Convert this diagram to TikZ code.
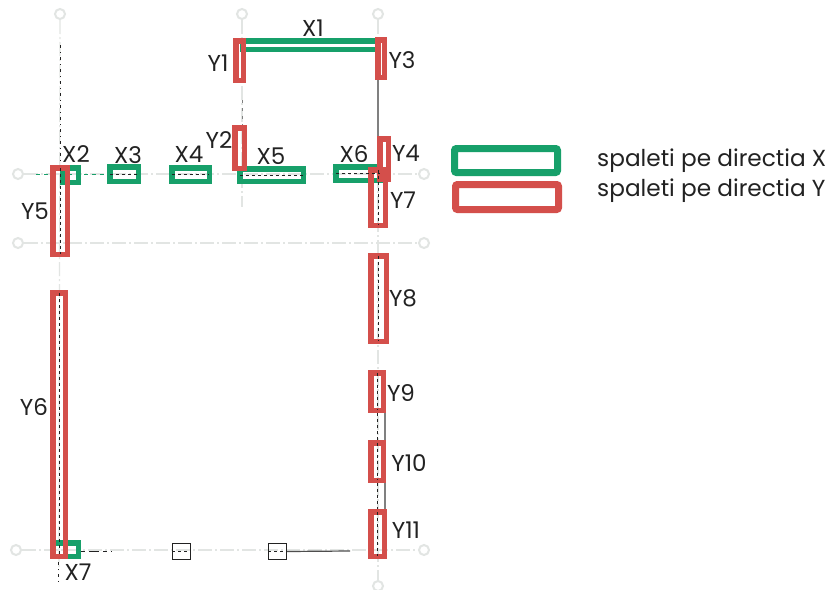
\documentclass[tikz,border=0pt]{standalone}
\usepackage{fontspec}
\setmainfont{Poppins}
\definecolor{wallg}{HTML}{17A06A}
\definecolor{wallr}{HTML}{D44F4B}
\definecolor{axisc}{HTML}{E2E5E3}
\definecolor{inkc}{HTML}{222222}
\tikzset{
  wall/.style={draw, rectangle, inner sep=0pt, outer sep=0pt, anchor=north west},
  wallx/.style={wall, draw=wallg, line width=\sw pt},
  wally/.style={wall, draw=wallr, line width=\sw pt},
  lab/.style={font=\fontsize{23}{23}\selectfont, text=inkc, inner sep=0pt},
  legtxt/.style={font=\fontsize{23.2}{24}\selectfont, text=inkc, inner sep=0pt, anchor=west},
  bubble/.style={circle, draw=axisc, line width=2pt, minimum size=10pt, inner sep=0pt},
  axisline/.style={draw=axisc, line width=1.2pt, dash pattern=on 14pt off 3pt on 2pt off 3pt},
  darkaxis/.style={draw=inkc, line width=1pt, dash pattern=on 3pt off 4pt on 1pt off 4pt},
  centerdash/.style={draw=inkc, line width=1pt, dash pattern=on 3pt off 3pt},
  solidgrey/.style={draw=gray, line width=1.3pt},
  column/.style={rectangle, draw=inkc, line width=1pt, inner sep=0pt, anchor=north west},
}
\def\sw{5.5}
\newcommand{\wallbox}[6]{\node[#1, minimum width=#4pt-#2pt-\sw pt, minimum height=#5pt-#3pt-\sw pt] (#6) at (#2+\sw/2,#3+\sw/2) {};}
\begin{document}
\begin{tikzpicture}[x=1pt,y=-1pt]
\useasboundingbox[fill=white] (0,0) rectangle (829,589);
% axis bubbles
\node[bubble] (t1) at (60,14) {};
\node[bubble] (t2) at (242,14) {};
\node[bubble] (t3) at (378,14) {};
\node[bubble] (l1) at (18,174) {};
\node[bubble] (l2) at (18,243) {};
\node[bubble] (l3) at (16,550) {};
\node[bubble] (r1) at (424,174) {};
\node[bubble] (r2) at (424,243) {};
\node[bubble] (r3) at (424,550) {};
\node[bubble] (b3) at (378,586) {};
\coordinate (b1) at (59,570);
\coordinate (b2) at (242,207);
% axes
\draw[axisline] (t1) -- (b1);
\draw[axisline] (t2) -- (b2);
\draw[axisline] (t3) -- (b3);
\draw[axisline] (l1) -- (r1);
\draw[axisline] (l2) -- (r2);
\draw[axisline] (l3) -- (r3);
% dark lines
\coordinate (d1) at (60,45);
\coordinate (d2) at (60,165);
\draw[darkaxis] (d1) -- (d2);
\coordinate (d3) at (36,174);
\coordinate (d4) at (107,174);
\draw[draw=wallg, line width=1pt, dash pattern=on 4pt off 4pt] (d3) -- (d4);
\coordinate (d5) at (242,100);
\coordinate (d6) at (242,125);
\draw[draw=gray, line width=1pt, dash pattern=on 3pt off 5pt] (d5) -- (d6);
\coordinate (d7) at (378,80);
\coordinate (d8) at (378,136);
\draw[solidgrey] (d7) -- (d8);
\coordinate (d9) at (385,413);
\coordinate (d10) at (385,440);
\draw[solidgrey] (d9) -- (d10);
\coordinate (d11) at (385,483);
\coordinate (d12) at (385,509);
\draw[solidgrey] (d11) -- (d12);
\coordinate (d13) at (377,413);
\coordinate (d14) at (377,440);
\draw[centerdash] (d13) -- (d14);
\coordinate (d15) at (377,483);
\coordinate (d16) at (377,509);
\draw[centerdash] (d15) -- (d16);
% columns and bottom line
\node[column, minimum width=18pt, minimum height=16pt] (c1) at (172,543) {};
\node[column, minimum width=18pt, minimum height=16pt] (c2) at (268,543) {};
\coordinate (e1) at (81,551);
\coordinate (e5) at (112,551);
\draw[draw=inkc, line width=1pt, dash pattern=on 4pt off 4pt on 10pt off 4pt] (e1) -- (e5);
\draw[centerdash] (c1.west) -- (c1.east);
\draw[centerdash] (c2.west) -- (c2.east);
\coordinate (e2) at (350,551);
\draw[draw=inkc!80, line width=1.2pt] (c2.east) -- (e2);
\coordinate (e3) at (58,562);
\coordinate (e4) at (58,582);
\draw[darkaxis] (e3) -- (e4);
% green walls
\wallbox{wallx}{240}{38}{380}{52}{X1w}
\wallbox{wallx}{60}{165}{81}{185}{X2w}
\wallbox{wallx}{107}{164}{141}{184}{X3w}
\wallbox{wallx}{169}{165}{212}{184}{X4w}
\wallbox{wallx}{237}{166}{306}{184}{X5w}
\wallbox{wallx}{333}{164}{383}{183}{X6w}
\wallbox{wallx}{50}{540}{81}{559}{X7w}
% red walls
\wallbox{wally}{233}{38}{246}{83}{Y1w}
\wallbox{wally}{232}{125}{247}{171}{Y2w}
\wallbox{wally}{375}{37}{387}{80}{Y3w}
\wallbox{wally}{377}{136}{391}{182}{Y4w}
\wallbox{wally}{50}{165}{70}{257}{Y5w}
\wallbox{wally}{50}{290}{68}{559}{Y6w}
\wallbox{wally}{368}{167}{388}{228}{Y7w}
\wallbox{wally}{368}{253}{389}{344}{Y8w}
\wallbox{wally}{368}{370}{386}{413}{Y9w}
\wallbox{wally}{368}{440}{386}{483}{Y10w}
\wallbox{wally}{368}{509}{387}{559}{Y11w}
% wall centre dashes
\draw[centerdash] (Y5w.north) -- (Y5w.south);
\draw[centerdash] (Y6w.north) -- (Y6w.south);
\draw[centerdash] (Y7w.north) -- (Y7w.south);
\draw[centerdash] (Y8w.north) -- (Y8w.south);
\draw[centerdash] (Y9w.north) -- (Y9w.south);
\draw[centerdash] (Y10w.north) -- (Y10w.south);
\draw[centerdash] (Y11w.north) -- (Y11w.south);
\draw[centerdash] (X5w.west) -- (X5w.east);
\draw[centerdash] (X4w.west) -- (X4w.east);
\draw[centerdash] (X3w.west) -- (X3w.east);
\draw[centerdash] (X6w.west) -- (X6w.east);
% labels
\node[lab] (X1) at (313,28) {X1};
\node[lab] (X2) at (76,154) {X2};
\node[lab] (X3) at (128,155) {X3};
\node[lab] (X4) at (189,154) {X4};
\node[lab] (X5) at (271,156) {X5};
\node[lab] (X6) at (354,154) {X6};
\node[lab] (X7) at (78,572) {X7};
\node[lab] (Y1) at (218,63) {Y1};
\node[lab] (Y2) at (219,140) {Y2};
\node[lab] (Y3) at (402,60) {Y3};
\node[lab] (Y4) at (406,153) {Y4};
\node[lab] (Y5) at (35,211) {Y5};
\node[lab] (Y6) at (34,407) {Y6};
\node[lab] (Y7) at (403,200) {Y7};
\node[lab] (Y8) at (403,298) {Y8};
\node[lab] (Y9) at (401,393) {Y9};
\node[lab] (Y10) at (409,463) {Y10};
\node[lab] (Y11) at (406,530) {Y11};
% legend
\def\sw{7}
\begin{scope}[rounded corners=2pt]
\wallbox{wallx}{451}{145}{561}{176}{legX}
\wallbox{wally}{452}{181}{562}{213}{legY}
\end{scope}
\node[legtxt] (legXt) at (597,161) {spaleti pe directia X};
\node[legtxt] (legYt) at (597,191) {spaleti pe directia Y};
\end{tikzpicture}
\end{document}
